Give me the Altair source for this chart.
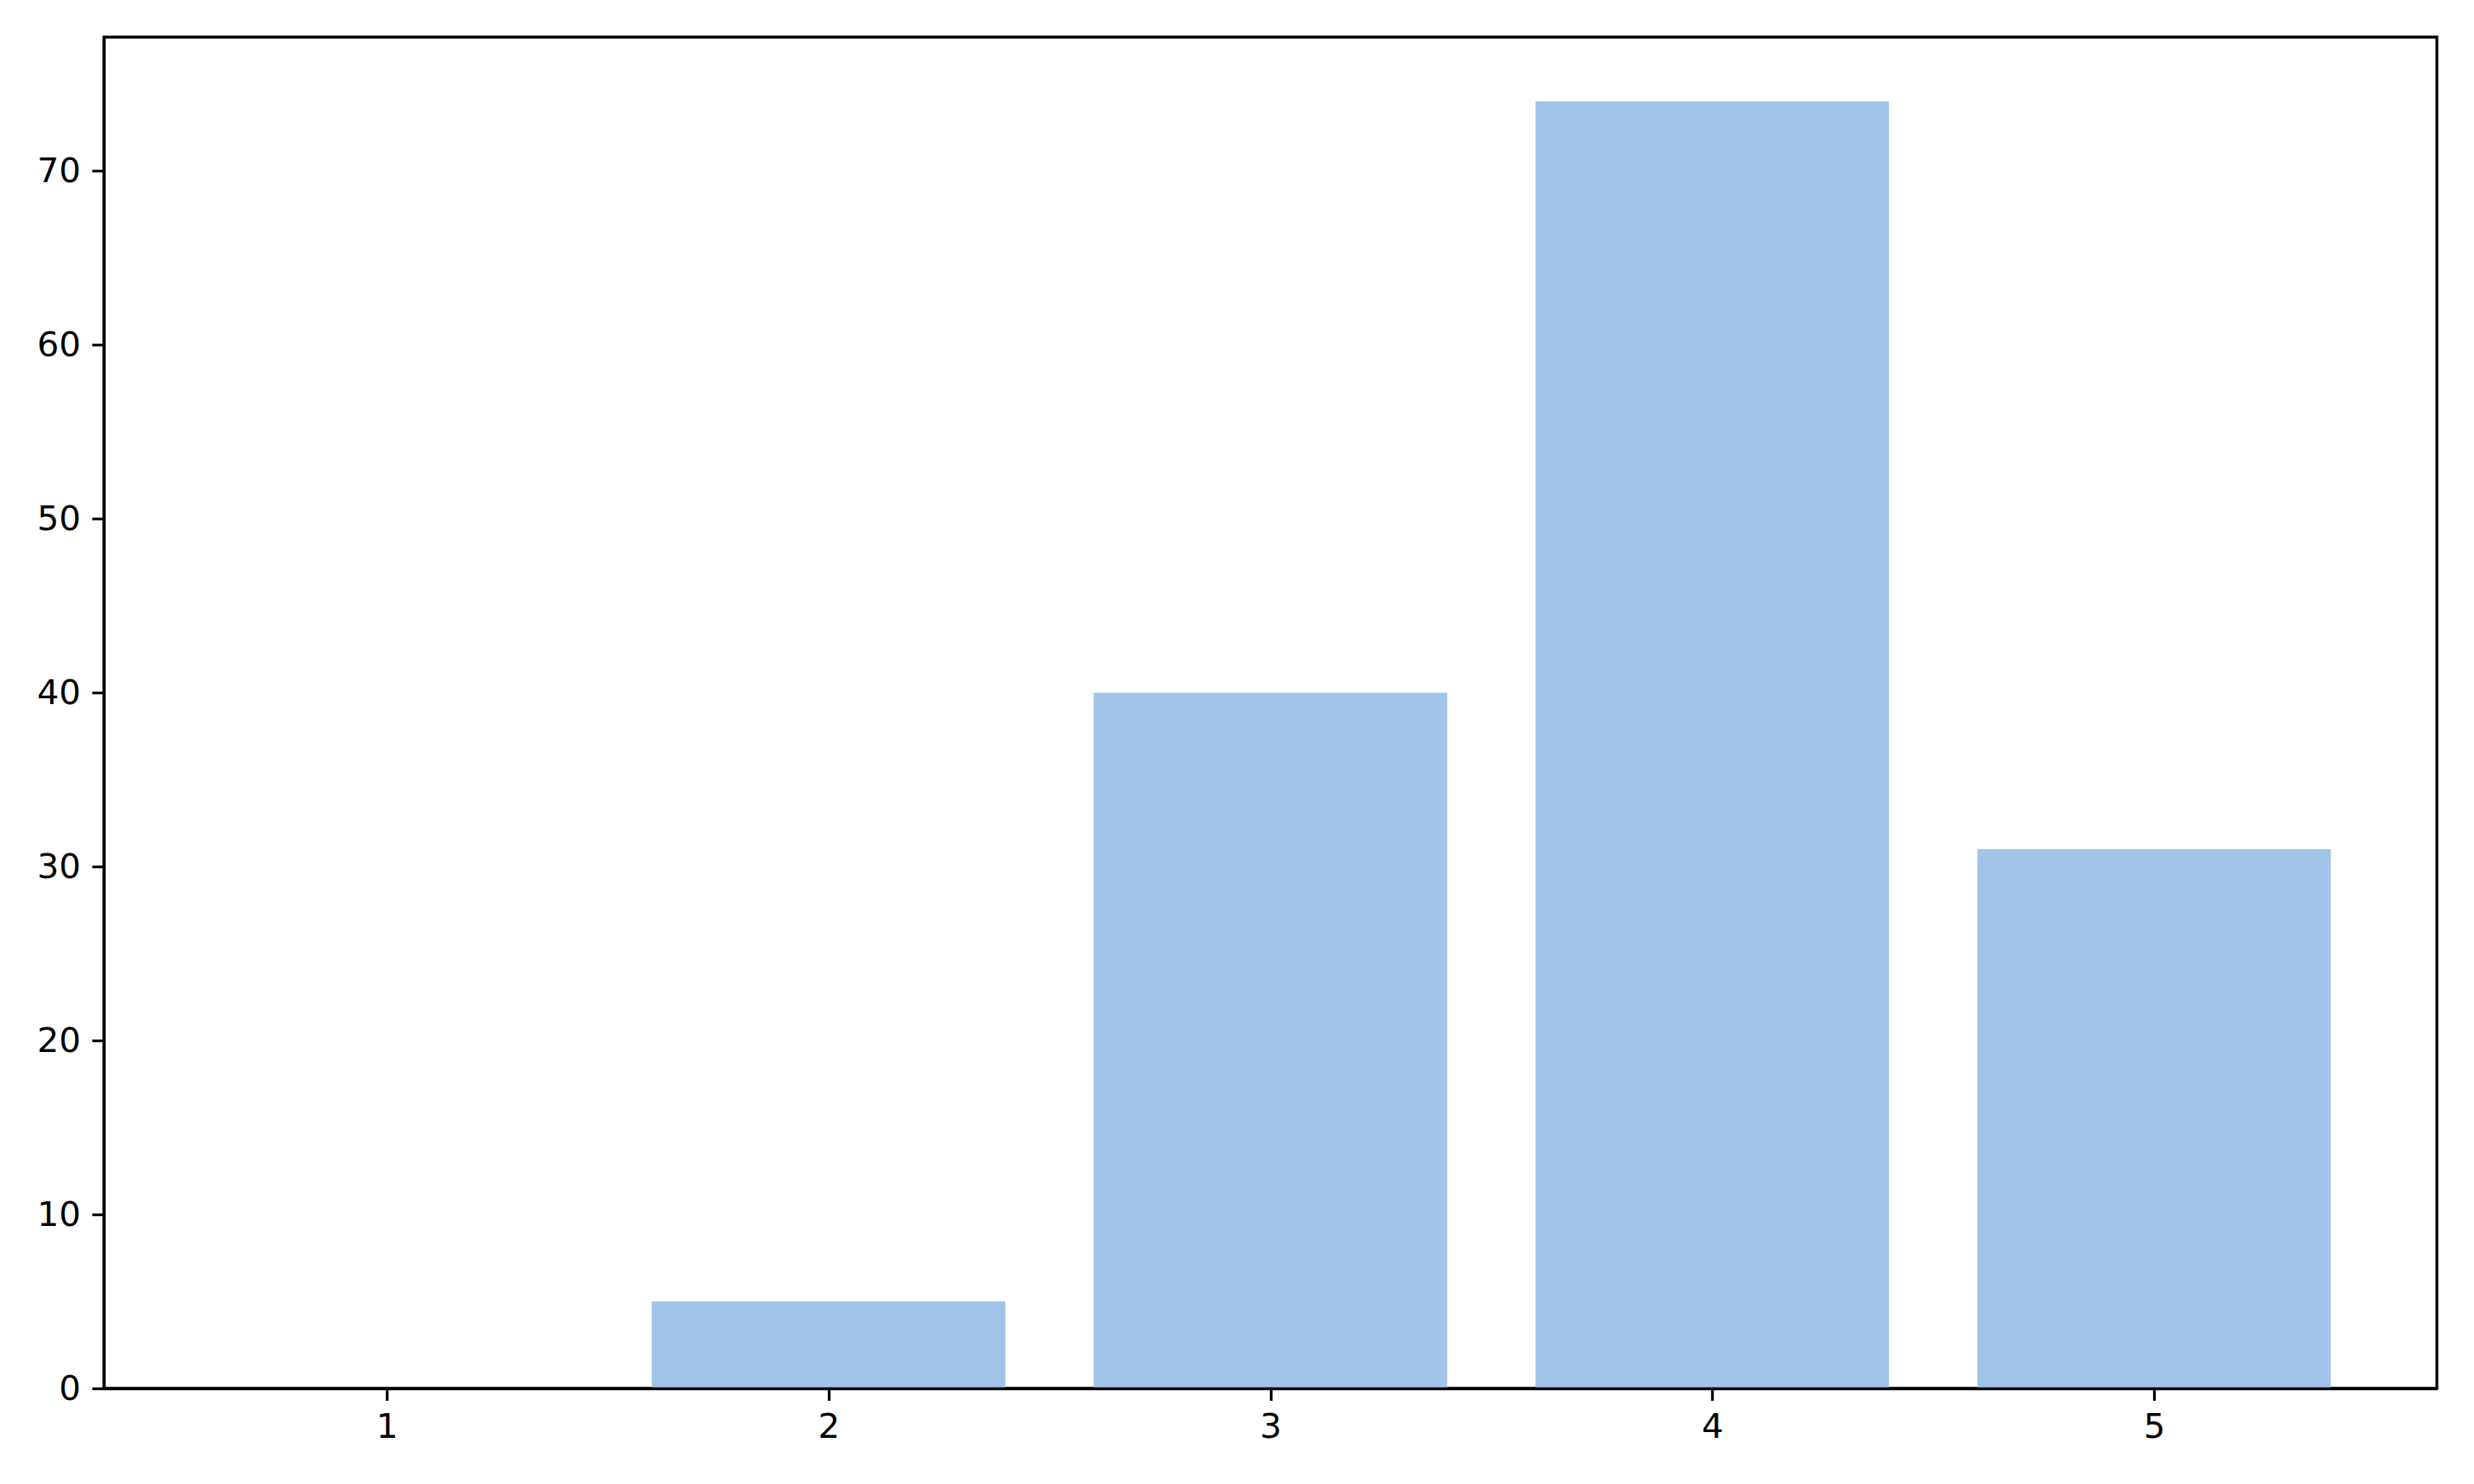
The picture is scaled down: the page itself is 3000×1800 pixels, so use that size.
import altair as alt
import pandas as pd

categories = [1, 2, 3, 4, 5]
values = [0, 5, 40, 74, 31]
x_ticks = [1, 2, 3, 4, 5]
y_ticks = [0, 10, 20, 30, 40, 50, 60, 70]

df = pd.DataFrame({"cat": categories, "value": values})
df["x0"] = df["cat"] - 0.4
df["x1"] = df["cat"] + 0.4
df["base"] = 0

FONT = "DejaVu Sans"
FS = 41.67
LW = 3.33

bars = alt.Chart(df).mark_bar(color="#A1C4E8", opacity=1, strokeWidth=0).encode(
    x=alt.X("x0:Q",
            scale=alt.Scale(domain=[0.36, 5.64], nice=False, zero=False),
            axis=alt.Axis(values=x_ticks, title=None, grid=False, format="d",
                          labelFont=FONT, labelFontSize=FS, labelColor="black",
                          tickColor="black", tickWidth=LW, tickSize=14.6,
                          labelPadding=12, domain=True, domainColor="black",
                          domainWidth=LW, zindex=1, labelFlush=False)),
    x2="x1:Q",
    y=alt.Y("value:Q",
            scale=alt.Scale(domain=[0, 77.7], nice=False),
            axis=alt.Axis(values=y_ticks, title=None, grid=False, format="d",
                          labelFont=FONT, labelFontSize=FS, labelColor="black",
                          tickColor="black", tickWidth=LW, tickSize=14.6,
                          labelPadding=14, domain=True, domainColor="black",
                          domainWidth=LW, zindex=1, labelFlush=False)),
    y2="base:Q",
)

chart = bars.properties(
    width=2829, height=1639,
    autosize=alt.AutoSizeParams(type="none"),
    padding={"left": 118, "top": 37, "right": 20, "bottom": 100},
).configure(background="white").configure_view(stroke="black", strokeWidth=LW)

chart.save("out.html", embed_options={"renderer": "svg", "actions": False})
